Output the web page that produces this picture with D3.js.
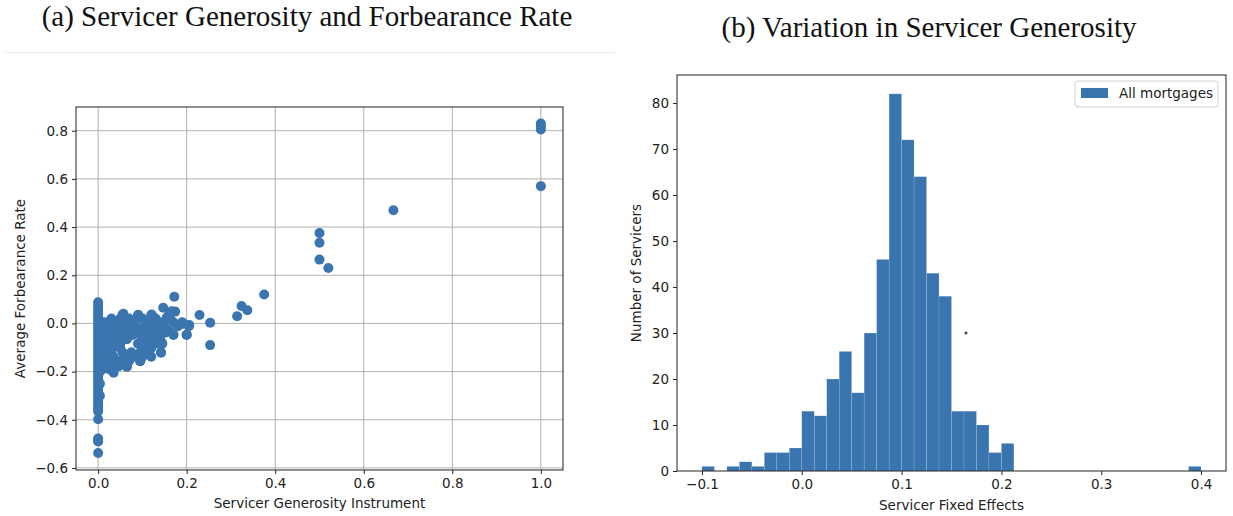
<!DOCTYPE html>
<html>
<head>
<meta charset="utf-8">
<script src="https://cdn.jsdelivr.net/npm/d3@7"></script>
<style>
  body { margin: 0; background: #fff; }
  svg { display: block; }
  .tick text { font-family: "DejaVu Sans", sans-serif; font-size: 13.5px; fill: #222; }
  .axlabel { font-family: "DejaVu Sans", sans-serif; font-size: 13.5px; fill: #222; }
  .title { font-family: "Liberation Serif", "Times New Roman", serif; font-size: 29px; fill: #111; }
</style>
</head>
<body>
<script>
// ---------- Panel (a): scatter data ----------
// column of servicers with instrument = 0
const colX = [0,0,0,0,0,0,0,0,0,0,0,0,0,0,0,0,0,0,0,0,0,0,0,0,0,0,0,0,0,0,0,0,0,0,0,0,0,0,0,0,0,
              0.004,0.004,0.004,0.004,0.004,0.004,0.004,0.004,0.004,0.004];
const colY = [0.088,0.072,0.058,0.045,0.032,0.02,0.008,-0.005,-0.018,-0.03,-0.043,-0.055,-0.068,-0.08,-0.093,-0.105,-0.118,-0.13,-0.142,-0.155,-0.168,-0.18,-0.193,-0.205,-0.218,-0.23,-0.242,-0.255,-0.268,-0.28,-0.293,-0.305,-0.318,-0.33,-0.342,-0.355,-0.365,-0.398,-0.478,-0.49,-0.538,
              0.01,-0.02,-0.05,-0.08,-0.11,-0.14,-0.17,-0.2,-0.25,-0.3];
// cloud of servicers with small positive instrument
const cloudX = [0.055,0.09,0.12,0.16,
  0.03,0.05,0.07,0.1,0.13,0.155,
  0.015,0.035,0.06,0.08,0.11,0.14,0.17,0.19,
  0.012,0.028,0.045,0.065,0.085,0.105,0.125,0.15,0.18,0.205,
  0.015,0.03,0.048,0.065,0.082,0.1,0.12,0.14,0.16,
  0.012,0.028,0.045,0.062,0.078,0.095,0.115,0.135,0.17,0.2,
  0.015,0.03,0.048,0.065,0.1,0.12,0.14,
  0.012,0.03,0.05,0.09,0.11,0.13,0.145,
  0.015,0.032,0.05,0.1,0.12,
  0.012,0.03,0.055,0.075,0.095,0.115,0.142,
  0.015,0.035,0.06,0.08,0.1,0.12,
  0.012,0.03,0.05,0.07,0.095,
  0.015,0.035,0.05,0.065,
  0.01,0.025,
  0.035];
const cloudY = [0.035,0.035,0.035,0.035,
  0.02,0.02,0.02,0.02,0.02,0.02,
  0.005,0.005,0.005,0.005,0.005,0.005,0.005,0.005,
  -0.012,-0.012,-0.012,-0.012,-0.012,-0.012,-0.012,-0.012,-0.012,-0.012,
  -0.03,-0.03,-0.03,-0.03,-0.03,-0.03,-0.03,-0.03,-0.03,
  -0.048,-0.048,-0.048,-0.048,-0.048,-0.048,-0.048,-0.048,-0.048,-0.048,
  -0.066,-0.066,-0.066,-0.066,-0.066,-0.066,-0.066,
  -0.084,-0.084,-0.084,-0.084,-0.084,-0.084,-0.084,
  -0.102,-0.102,-0.102,-0.102,-0.102,
  -0.12,-0.12,-0.12,-0.12,-0.12,-0.12,-0.12,
  -0.138,-0.138,-0.138,-0.138,-0.138,-0.138,
  -0.156,-0.156,-0.156,-0.156,-0.156,
  -0.174,-0.174,-0.174,-0.174,
  -0.19,-0.19,
  -0.205];
// individually readable servicers
const outX = [0.172,0.147,0.166,0.174,0.155,0.162,0.229,0.253,0.253,0.206,0.2,0.185,0.193,0.17,0.147,0.151,0.144,0.142,
              0.314,0.324,0.337,0.375,0.5,0.5,0.5,0.52,0.667,1.0,1.0,1.0,1.0,
              0.057,0.091,0.121,0.016,0.046,0.065,0.095];
const outY = [0.111,0.065,0.051,0.049,0.024,0.024,0.035,0.003,-0.09,-0.007,-0.046,-0.004,-0.001,-0.046,-0.025,-0.039,-0.08,-0.122,
              0.03,0.072,0.055,0.12,0.375,0.335,0.265,0.23,0.47,0.83,0.82,0.805,0.57,
              0.04,0.035,0.037,-0.157,-0.178,-0.18,-0.157];
const xTicksA = [0.0,0.2,0.4,0.6,0.8,1.0];
const yTicksA = [-0.6,-0.4,-0.2,0.0,0.2,0.4,0.6,0.8];

// ---------- Panel (b): histogram data ----------
const histMin = -0.1, histMax = 0.4;
const histCounts = [1,0,1,2,1,4,4,5,13,12,20,26,17,30,46,82,72,64,43,38,13,13,10,4,6,
                    0,0,0,0,0,0,0,0,0,0,0,0,0,0,1];
const xTicksB = [-0.1,0.0,0.1,0.2,0.3,0.4];
const yTicksB = [0,10,20,30,40,50,60,70,80];
const strayMark = [0.1645, 30];

const titleA = "(a) Servicer Generosity and Forbearance Rate";
const titleB = "(b) Variation in Servicer Generosity";
const blue = "#3a75b0";

const fmtMinus = f => v => f(v).replace("-", "\u2212");
const svg = d3.select("body").append("svg").attr("width",1233).attr("height",516);

// titles
svg.append("text").attr("class","title").attr("x",307).attr("y",26).attr("text-anchor","middle").text(titleA);
svg.append("text").attr("class","title").attr("x",929).attr("y",37).attr("text-anchor","middle").text(titleB);
svg.append("line").attr("x1",5).attr("x2",615).attr("y1",52.5).attr("y2",52.5).attr("stroke","#e9e9e9").attr("stroke-width",1);

// ---------- Panel (a) ----------
const A = {l:76, r:563, t:107, b:470};
const xa = d3.scaleLinear().domain([-0.05,1.05]).range([A.l,A.r]);
const ya = d3.scaleLinear().domain([-0.6085,0.8985]).range([A.b,A.t]);
const ga = svg.append("g");
// grid
ga.selectAll(".gx").data(xTicksA).join("line").attr("x1",d=>xa(d)).attr("x2",d=>xa(d)).attr("y1",A.t).attr("y2",A.b).attr("stroke","#b0b0b0").attr("stroke-width",1);
ga.selectAll(".gy").data(yTicksA).join("line").attr("y1",d=>ya(d)).attr("y2",d=>ya(d)).attr("x1",A.l).attr("x2",A.r).attr("stroke","#b0b0b0").attr("stroke-width",1);
const pts = [];
colX.forEach((x,i)=>pts.push([x,colY[i]]));
cloudX.forEach((x,i)=>pts.push([x,cloudY[i]]));
outX.forEach((x,i)=>pts.push([x,outY[i]]));
ga.selectAll("circle").data(pts).join("circle").attr("cx",d=>xa(d[0])).attr("cy",d=>ya(d[1])).attr("r",5).attr("fill",blue);
ga.append("g").attr("transform",`translate(0,${A.b})`)
  .call(d3.axisBottom(xa).tickValues(xTicksA).tickFormat(fmtMinus(d3.format(".1f"))).tickSize(4).tickPadding(4))
  .call(g=>g.select(".domain").remove());
ga.append("g").attr("transform",`translate(${A.l},0)`)
  .call(d3.axisLeft(ya).tickValues(yTicksA).tickFormat(fmtMinus(d3.format(".1f"))).tickSize(4).tickPadding(4))
  .call(g=>g.select(".domain").remove());
ga.append("rect").attr("x",A.l).attr("y",A.t).attr("width",A.r-A.l).attr("height",A.b-A.t).attr("fill","none").attr("stroke","#222").attr("stroke-width",1);
ga.append("text").attr("class","axlabel").attr("x",(A.l+A.r)/2).attr("y",508).attr("text-anchor","middle").text("Servicer Generosity Instrument");
ga.append("text").attr("class","axlabel").attr("transform",`translate(25,${(A.t+A.b)/2}) rotate(-90)`).attr("text-anchor","middle").text("Average Forbearance Rate");

// ---------- Panel (b) ----------
const B = {l:677, r:1226, t:75, b:471};
const xb = d3.scaleLinear().domain([-0.125,0.425]).range([B.l,B.r]);
const yb = d3.scaleLinear().domain([0,86.1]).range([B.b,B.t]);
const gb = svg.append("g");
const bw = (histMax-histMin)/histCounts.length;
const bins = histCounts.map((c,i)=>({x0:histMin+i*bw, x1:histMin+(i+1)*bw, c}));
gb.selectAll("rect.bar").data(bins.filter(d=>d.c>0)).join("rect").attr("class","bar")
  .attr("x",d=>xb(d.x0)).attr("width",d=>xb(d.x1)-xb(d.x0)).attr("y",d=>yb(d.c)).attr("height",d=>yb(0)-yb(d.c))
  .attr("fill",blue).attr("stroke","#ffffff").attr("stroke-opacity",0.25).attr("stroke-width",0.5);
gb.append("g").attr("transform",`translate(0,${B.b})`)
  .call(d3.axisBottom(xb).tickValues(xTicksB).tickFormat(fmtMinus(d3.format(".1f"))).tickSize(4).tickPadding(4))
  .call(g=>g.select(".domain").remove());
gb.append("g").attr("transform",`translate(${B.l},0)`)
  .call(d3.axisLeft(yb).tickValues(yTicksB).tickFormat(d3.format("d")).tickSize(4).tickPadding(4))
  .call(g=>g.select(".domain").remove());
gb.append("rect").attr("x",B.l).attr("y",B.t).attr("width",B.r-B.l).attr("height",B.b-B.t).attr("fill","none").attr("stroke","#222").attr("stroke-width",1);
gb.append("text").attr("class","axlabel").attr("x",(B.l+B.r)/2).attr("y",510).attr("text-anchor","middle").text("Servicer Fixed Effects");
gb.append("text").attr("class","axlabel").attr("transform",`translate(641,${(B.t+B.b)/2}) rotate(-90)`).attr("text-anchor","middle").text("Number of Servicers");
// stray marker
const sx = xb(strayMark[0]), sy = yb(strayMark[1]);
gb.append("path").attr("d",`M${sx-1.5},${sy}H${sx+1.5}M${sx},${sy-1.5}V${sy+1.5}`).attr("stroke","#000").attr("stroke-width",1);
// legend
const lg = gb.append("g");
lg.append("rect").attr("x",1075).attr("y",81).attr("width",143).attr("height",26).attr("rx",3).attr("fill","#fff").attr("fill-opacity",0.8).attr("stroke","#d0d0d0");
lg.append("rect").attr("x",1081).attr("y",88).attr("width",27).attr("height",10).attr("fill",blue);
lg.append("text").attr("class","axlabel").attr("x",1119).attr("y",98).text("All mortgages");

d3.selectAll(".tick line").attr("stroke","#222");
</script>
</body>
</html>
